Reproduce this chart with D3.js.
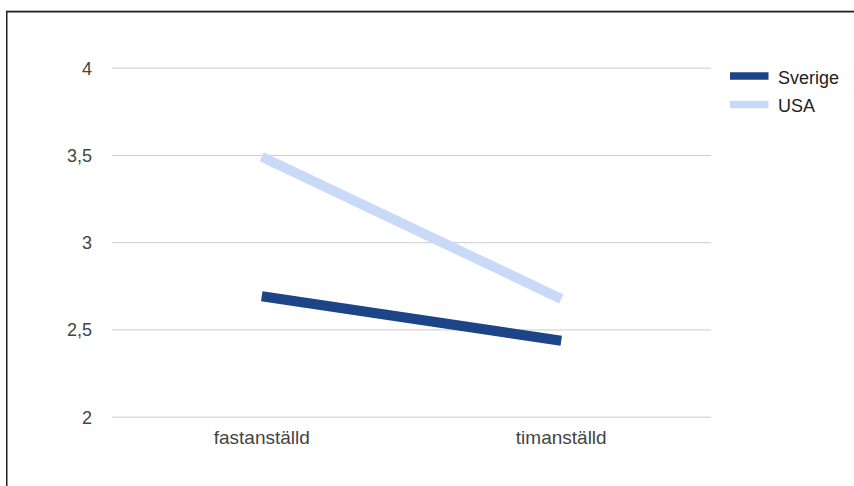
<!DOCTYPE html>
<html>
<head>
<meta charset="utf-8">
<script src="https://cdn.jsdelivr.net/npm/d3@7"></script>
<style>
  html, body { margin: 0; padding: 0; background: #fff; }
  svg { display: block; }
  text { font-family: Arial, "Liberation Sans", sans-serif; }
</style>
</head>
<body>
<svg id="chart" width="854" height="486"></svg>
<script>
// Employment type on the x axis, one line per country
const categories = ["fastanställd", "timanställd"];
const seriesNames = ["Sverige", "USA"];
const sverigeValues = [2.69, 2.435];
const usaValues = [3.49, 2.675];
const yTicks = [2, 2.5, 3, 3.5, 4];
const seriesColors = ["#1c4587", "#c9daf8"];

const series = [
  { name: seriesNames[0], values: sverigeValues, color: seriesColors[0] },
  { name: seriesNames[1], values: usaValues, color: seriesColors[1] }
];

const svg = d3.select("#chart");
const W = 854, H = 486;

// frame around the chart
svg.append("line").attr("x1", 6).attr("x2", W).attr("y1", 10.5).attr("y2", 10.5)
  .attr("stroke", "#bbb").attr("stroke-width", 1);
svg.append("rect")
  .attr("x", 6.75).attr("y", 11.75)
  .attr("width", W + 20).attr("height", H + 20)
  .attr("fill", "none").attr("stroke", "#222").attr("stroke-width", 1.5);

const plot = { left: 112, right: 711, top: 67.7, bottom: 416.7 };

const x = d3.scaleBand().domain(categories).range([plot.left, plot.right]);
const y = d3.scaleLinear().domain([2, 4]).range([plot.bottom, plot.top]);

// horizontal gridlines with value labels
const fmt = v => String(v).replace(".", ",");
const yAxis = d3.axisLeft(y).tickValues(yTicks).tickFormat(fmt)
  .tickSize(-(plot.right - plot.left)).tickPadding(20);
const gy = svg.append("g").attr("transform", `translate(${plot.left},0)`).call(yAxis);
gy.select(".domain").remove();
gy.selectAll(".tick line").attr("stroke", "#cccccc").attr("stroke-width", 1);
gy.selectAll(".tick text").attr("fill", "#444").attr("font-size", 18)
  .attr("font-family", "Arial, 'Liberation Sans', sans-serif")
  .attr("dy", "0.36em");

// category labels
const xAxis = d3.axisBottom(x).tickSize(0).tickPadding(14);
const gx = svg.append("g").attr("transform", `translate(0,${plot.bottom})`).call(xAxis);
gx.select(".domain").remove();
gx.selectAll(".tick text").attr("fill", "#444").attr("font-size", 19)
  .attr("font-family", "Arial, 'Liberation Sans', sans-serif");

// series lines
const line = d3.line()
  .x((d, i) => x(categories[i]) + x.bandwidth() / 2)
  .y(d => y(d));

svg.append("g").selectAll("path").data(series).join("path")
  .attr("d", d => line(d.values))
  .attr("fill", "none")
  .attr("stroke", d => d.color)
  .attr("stroke-width", 10)
  .attr("stroke-linecap", "butt");

// legend
const legend = svg.append("g").attr("transform", "translate(730,76)");
const item = legend.selectAll("g").data(series).join("g")
  .attr("transform", (d, i) => `translate(0,${i * 28.5})`);
item.append("rect").attr("x", 0).attr("y", -3.75).attr("width", 38.5).attr("height", 7.5)
  .attr("fill", d => d.color);
item.append("text").attr("x", 48).attr("y", 7.5)
  .attr("font-size", 18).attr("fill", "#222")
  .text(d => d.name);
</script>
</body>
</html>
